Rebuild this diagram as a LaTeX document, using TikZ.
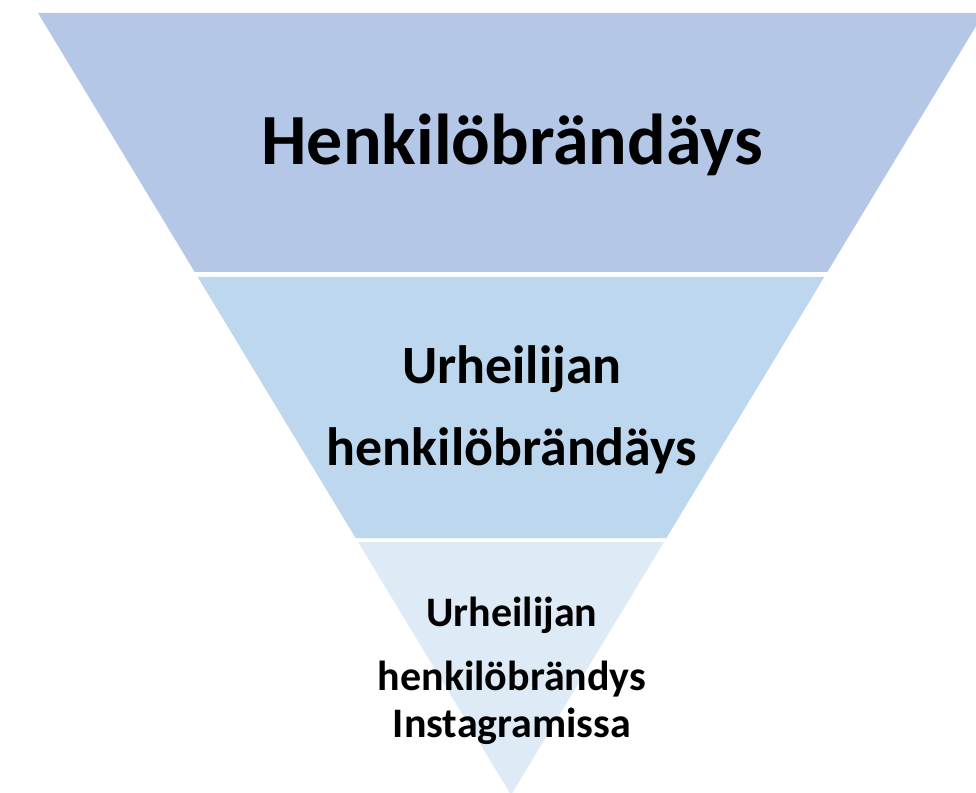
\documentclass[tikz,border=0pt]{standalone}
\usepackage{fontspec}
\setmainfont{Carlito}
\usetikzlibrary{positioning}
\definecolor{bandtop}{HTML}{B4C7E7}
\definecolor{bandmid}{HTML}{BDD7EE}
\definecolor{bandlow}{HTML}{DEEBF7}
\begin{document}
\begin{tikzpicture}[x=0.02cm, y=-0.02cm,
    txt/.style={font=\fontsize{#1}{#1}\selectfont\bfseries, anchor=base, inner sep=0pt}]
  \useasboundingbox (0,0) rectangle (976,793);
  % the three bands of the funnel
  \fill[bandtop] (38,13) -- (984,13) -- (827.3,272) -- (194.7,272) -- cycle;
  \fill[bandmid] (197.7,277) -- (824.3,277) -- (666.4,538) -- (355.6,538) -- cycle;
  \fill[bandlow] (358,542) -- (664,542) -- (511,795) -- cycle;
  % texts
  \node[txt=41] (brand) at (512,165) {Henkilöbrändäys};
  \node[txt=30.7] (athlete) at (512,383) {Urheilijan};
  \node[txt=30.7] (athletebrand) at (512,465) {henkilöbrändäys};
  \node[txt=23.9] (insta1) at (512,626) {Urheilijan};
  \node[txt=23.9] (insta2) at (512,690) {henkilöbrändys};
  \node[txt=23.9] (insta3) at (512,737) {Instagramissa};
\end{tikzpicture}
\end{document}
